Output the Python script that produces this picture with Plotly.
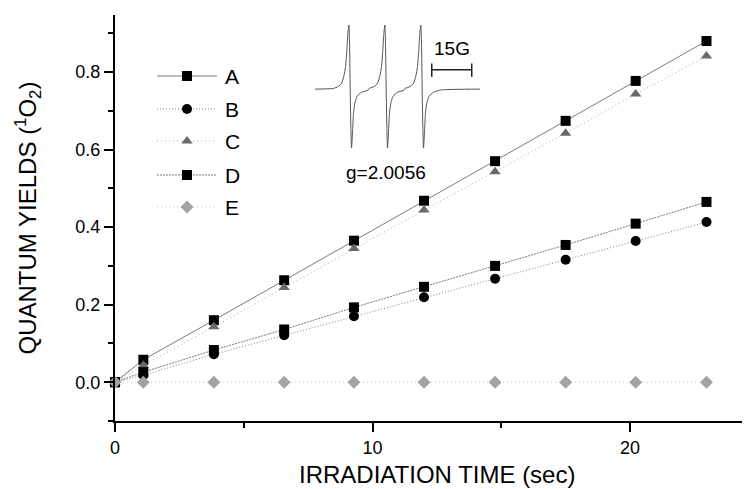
import plotly.graph_objects as go

# ---------------- data ----------------
time_s = [0, 1.1, 3.84, 6.57, 9.28, 12.0, 14.76, 17.5, 20.22, 22.97]
series_A = [0, 0.058, 0.160, 0.263, 0.365, 0.468, 0.570, 0.674, 0.777, 0.880]
series_B = [0, 0.018, 0.072, 0.121, 0.170, 0.219, 0.267, 0.316, 0.364, 0.413]
series_C = [0, 0.044, 0.143, 0.244, 0.345, 0.444, 0.543, 0.642, 0.743, 0.841]
series_D = [0, 0.026, 0.083, 0.136, 0.193, 0.246, 0.300, 0.354, 0.409, 0.465]
series_E = [0, 0, 0, 0, 0, 0, 0, 0, 0, 0]
series_names = ["A", "B", "C", "D", "E"]

x_ticks = [0, 10, 20]
y_ticks = [0.0, 0.2, 0.4, 0.6, 0.8]

# EPR inset (field in G, normalised derivative signal), one line shape
epr_centers_G = [13.2, 26.7, 40.2]
epr_offset_G = [-6.4, -4.5, -3.25, -2.4, -1.75, -1.25, -0.875, -0.5, -0.25, 0.0,
                0.25, 0.5, 0.875, 1.25, 1.75, 2.6, 4.25, 6.75]
epr_shape = [0.01, 0.04, 0.09, 0.2, 0.35, 0.61, 0.87, 1.0, 0.72, 0.0,
             -0.58, -0.92, -0.68, -0.37, -0.22, -0.11, -0.05, -0.015]
epr_field_span = [0.0, 61.9]

# ---------------- styles ----------------
FONT = "Liberation Sans, Arial, Helvetica, sans-serif"

styles = {
    "A": dict(symbol="square", mcolor="#000000", lcolor="#7a7a7a", dash="solid"),
    "B": dict(symbol="circle", mcolor="#000000", lcolor="#808080", dash="1px,2px"),
    "C": dict(symbol="triangle-up", mcolor="#6a6a6a", lcolor="#a8a8a8", dash="1px,3px"),
    "D": dict(symbol="square", mcolor="#000000", lcolor="#7a7a7a", dash="2px,1px"),
    "E": dict(symbol="diamond", mcolor="#a3a3a3", lcolor="#c8c8c8", dash="1px,3px"),
}
series_vals = {"A": series_A, "B": series_B, "C": series_C, "D": series_D, "E": series_E}

fig = go.Figure()

for name in series_names:
    st = styles[name]
    fig.add_trace(go.Scatter(
        x=time_s, y=series_vals[name], mode="lines+markers", name=name,
        line=dict(color=st["lcolor"], width=1, dash=st["dash"]),
        marker=dict(symbol=st["symbol"], color=st["mcolor"], size=10,
                    line=dict(width=0)),
        cliponaxis=False, showlegend=False, xaxis="x", yaxis="y"))

# ---------------- EPR inset ----------------
epr_x, epr_y = [epr_field_span[0]], [0.0]
for c in epr_centers_G:
    for o, s in zip(epr_offset_G, epr_shape):
        epr_x.append(c + o)
        epr_y.append(s)
epr_x.append(epr_field_span[1])
epr_y.append(0.0)

fig.add_trace(go.Scatter(x=epr_x, y=epr_y, mode="lines",
                         line=dict(color="#555555", width=1, shape="spline", smoothing=0.6),
                         showlegend=False, hoverinfo="skip", xaxis="x2", yaxis="y2"))

# ---------------- manual legend (coordinates on an overlay axis spanning the plot area) ----------------
leg_y = [76, 109, 141, 175, 207]
leg_x0, leg_x1, leg_xm, leg_xt = 157, 217, 187, 223
for name, yy in zip(series_names, leg_y):
    st = styles[name]
    fig.add_trace(go.Scatter(x=[leg_x0, leg_x1], y=[yy, yy], mode="lines",
                             line=dict(color=st["lcolor"], width=1, dash=st["dash"]),
                             showlegend=False, hoverinfo="skip", xaxis="x3", yaxis="y3"))
    fig.add_trace(go.Scatter(x=[leg_xm], y=[yy], mode="markers",
                             marker=dict(symbol=st["symbol"], color=st["mcolor"], size=10),
                             showlegend=False, hoverinfo="skip", xaxis="x3", yaxis="y3"))
    fig.add_annotation(x=leg_xt, y=yy, xref="x3", yref="y3", text=name, showarrow=False,
                       xanchor="left", yanchor="middle", font=dict(family=FONT, size=21, color="black"))

# scale bar 15G
bar_G = [43.8, 58.8]
bar_s, cap_lo, cap_hi = 0.30, 0.19, 0.40
for shp in [dict(x0=bar_G[0], x1=bar_G[1], y0=bar_s, y1=bar_s),
            dict(x0=bar_G[0], x1=bar_G[0], y0=cap_lo, y1=cap_hi),
            dict(x0=bar_G[1], x1=bar_G[1], y0=cap_lo, y1=cap_hi)]:
    fig.add_shape(type="line", xref="x2", yref="y2", line=dict(color="#222222", width=1.5), **shp)

fig.add_annotation(x=51.3, y=0.63, xref="x2", yref="y2", text="15G", showarrow=False,
                   font=dict(family=FONT, size=19, color="black"))
fig.add_annotation(x=0.4268, y=0.611, xref="paper", yref="paper", text="g=2.0056",
                   showarrow=False, font=dict(family=FONT, size=19, color="black"))

# x-axis title placed as a text just under the tick labels
fig.add_annotation(x=0.507, y=-0.131, xref="paper", yref="paper", text="IRRADIATION TIME (sec)",
                   showarrow=False, xanchor="center", yanchor="middle",
                   font=dict(family=FONT, size=24, color="black"))

axis_common = dict(showline=True, linecolor="black", linewidth=2, ticks="outside",
                   ticklen=9, tickwidth=1.5, tickcolor="black", showgrid=False, zeroline=False,
                   tickfont=dict(family=FONT, size=18, color="black"), automargin=False)

# the page body adds an 8px offset, so the figure is sized/shifted to compensate
fig.update_layout(
    width=742, height=481,
    margin=dict(l=107, r=0, t=7, b=68),
    paper_bgcolor="white", plot_bgcolor="rgba(0,0,0,0)",
    xaxis=dict(range=[0, 24.66], tickvals=x_ticks, domain=[0, 1],
               minor=dict(ticks="outside", ticklen=5, tickwidth=1.5, tickcolor="black", dtick=5, tick0=0),
               **axis_common),
    yaxis=dict(range=[-0.1, 0.947], tickvals=y_ticks, tickformat=".1f", domain=[0, 1],
               minor=dict(ticks="outside", ticklen=5, tickwidth=1.5, tickcolor="black", dtick=0.1, tick0=0),
               title=dict(text="QUANTUM YIELDS (<sup>1</sup>O<sub>2</sub>)", standoff=32,
                          font=dict(family=FONT, size=24, color="black")),
               **axis_common),
    xaxis2=dict(domain=[0.31496, 0.5748], range=epr_field_span, anchor="y2", visible=False),
    yaxis2=dict(domain=[0.643, 1.0], range=[-1.105, 1.156], anchor="x2", visible=False),
    xaxis3=dict(domain=[0, 1], range=[115, 750], anchor="y3", visible=False),
    yaxis3=dict(domain=[0, 1], range=[421, 15], anchor="x3", visible=False),
)

fig.write_html("out.html")
